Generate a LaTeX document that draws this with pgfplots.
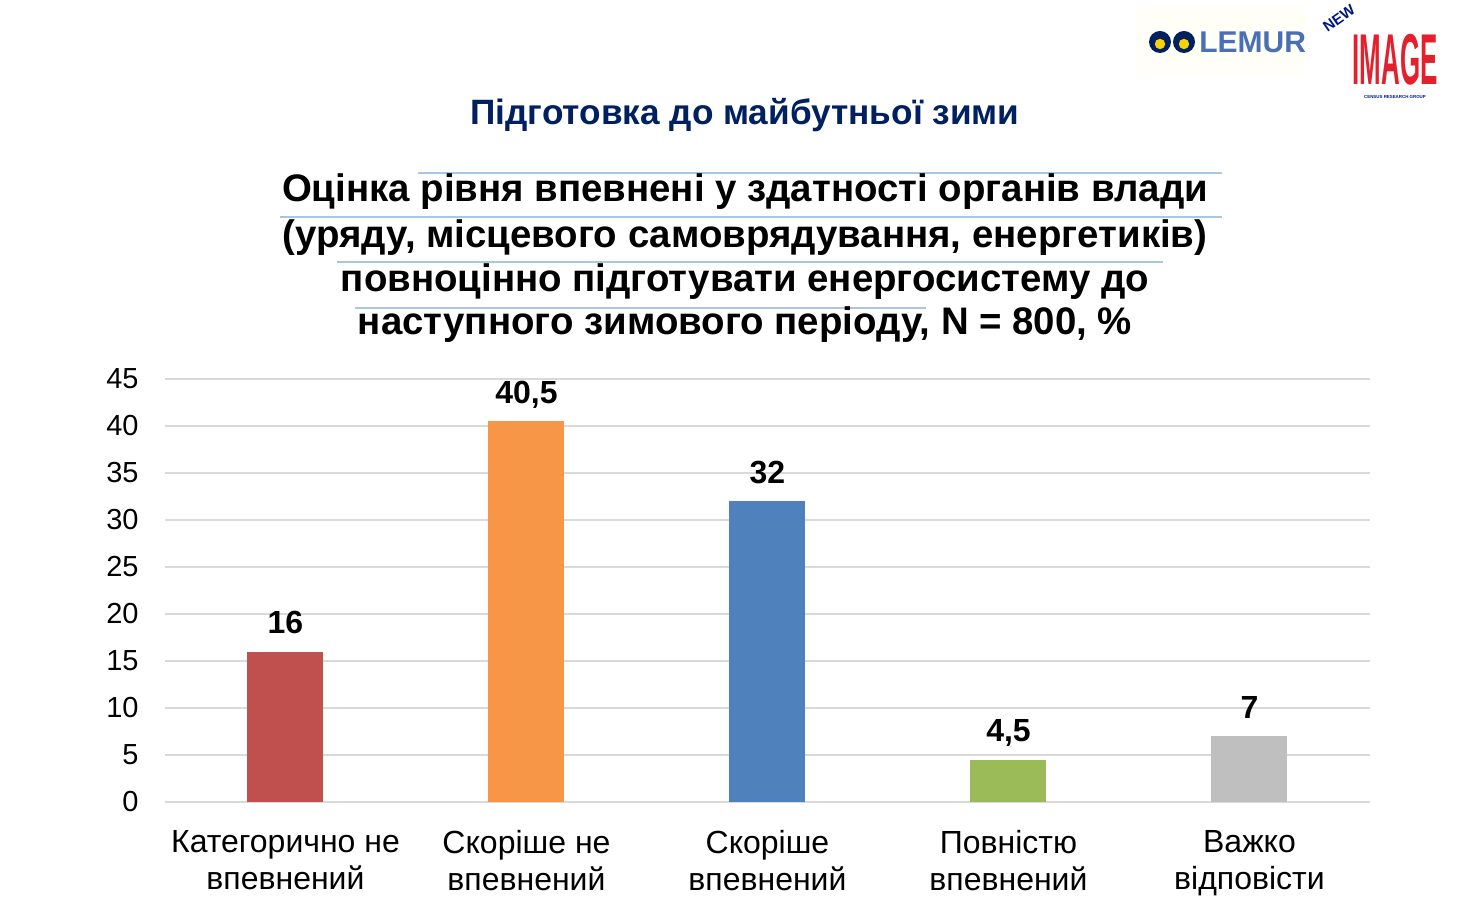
\documentclass[border=0pt]{standalone}
\usepackage{pgfplots}
\pgfplotsset{compat=1.18}
\usepackage{fontspec}
\setmainfont{Liberation Sans}
\definecolor{cred}{HTML}{C0504D}
\definecolor{corange}{HTML}{F79646}
\definecolor{cblue}{HTML}{4F81BD}
\definecolor{cgreen}{HTML}{9BBB59}
\definecolor{cgray}{HTML}{BFBFBF}
\definecolor{navy}{HTML}{002060}
\definecolor{gridgray}{HTML}{D9D9D9}
\definecolor{faintblue}{HTML}{A9C6E2}
\definecolor{lemurblue}{HTML}{4A6FB5}
\definecolor{imgred}{HTML}{E3202B}
\begin{document}
\begin{tikzpicture}[x=1pt,y=1pt]
\path[use as bounding box] (-82.5,-55.5) rectangle (657.5,401);
% faint decorative lines over the title
\draw[faintblue, line width=0.6pt] (126.5,314.5) -- (528.5,314.5);
\draw[faintblue, line width=0.6pt] (57.5,292.5) -- (528.5,292.5);
\draw[faintblue, line width=0.6pt] (86,270) -- (499,270);
\draw[faintblue, line width=0.6pt] (95,247) -- (380.5,247);
% titles
\node[anchor=base, font=\bfseries\fontsize{17.6}{20}\selectfont, text=navy] at (290,338.5) {Підготовка до майбутньої зими};
\node[anchor=base, font=\bfseries\fontsize{19.2}{22}\selectfont] at (290,300) {Оцінка рівня впевнені у здатності органів влади};
\node[anchor=base, font=\bfseries\fontsize{19.2}{22}\selectfont] at (290,277) {(уряду, місцевого самоврядування, енергетиків)};
\node[anchor=base, font=\bfseries\fontsize{19.2}{22}\selectfont] at (290,255) {повноцінно підготувати енергосистему до};
\node[anchor=base, font=\bfseries\fontsize{19.2}{22}\selectfont] at (290,233.5) {наступного зимового періоду, N = 800, \%};
% logos
\fill[yellow!3] (486,364) rectangle (570,398);
\fill[navy] (497.5,380) circle (5.5);
\fill[navy] (509.5,380) circle (5.5);
\fill[yellow!70!orange] (497.5,379) circle (2.6);
\fill[yellow!70!orange] (509.5,379) circle (2.6);
\node[anchor=west, font=\bfseries\fontsize{15}{15}\selectfont, text=lemurblue, inner sep=0pt] at (517,380) {LEMUR};
\node[text=imgred, inner sep=0pt] at (615,371) {\scalebox{0.36}[1]{\fontsize{36}{36}\selectfont\bfseries IMAGE}};
\node[text=navy!80!blue, rotate=35, inner sep=0pt, font=\bfseries\fontsize{7.5}{7.5}\selectfont] at (587,392) {NEW};
\node[text=navy!80!blue, inner sep=0pt, font=\bfseries\fontsize{2.2}{2.5}\selectfont] at (615,352.5) {CENSUS RESEARCH GROUP};
\begin{axis}[
  at={(0,0)}, anchor=south west,
  scale only axis, width=602.5pt, height=211.5pt,
  xmin=-0.5, xmax=4.5, ymin=0, ymax=45,
  ytick={0,5,...,45}, xtick={0,1,2,3,4},
  xticklabels={Категорично не\\впевнений, Скоріше не\\впевнений, Скоріше\\впевнений, Повністю\\впевнений, Важко\\відповісти},
  axis line style={draw=none},
  major tick length=0pt,
  ymajorgrids, grid style={draw=gridgray, line width=1pt},
  /pgf/number format/assume math mode=true,
  yticklabel style={font=\fontsize{14.5}{16}\selectfont, anchor=east, inner sep=0pt, xshift=-13pt},
  xticklabel style={font=\fontsize{16}{18.5}\selectfont, align=center, anchor=north, inner sep=0pt, yshift=-14pt},
  ybar, bar width=38pt, bar shift=0pt,
  nodes near coords={\pgfmathprintnumber[use comma]{\pgfplotspointmeta}},
  every node near coord/.append style={font=\bfseries\fontsize{16}{18}\selectfont, anchor=base, inner sep=0pt, yshift=9pt},
  clip=false,
]
\addplot[fill=cred, draw=none] coordinates {(0,16)};
\addplot[fill=corange, draw=none] coordinates {(1,40.5)};
\addplot[fill=cblue, draw=none] coordinates {(2,32)};
\addplot[fill=cgreen, draw=none] coordinates {(3,4.5)};
\addplot[fill=cgray, draw=none] coordinates {(4,7)};
\end{axis}
\end{tikzpicture}
\end{document}
